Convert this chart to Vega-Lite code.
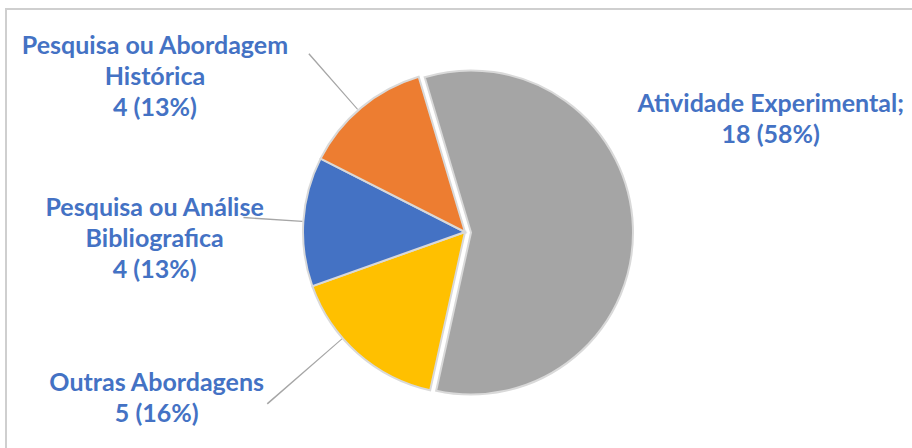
{
  "$schema": "https://vega.github.io/schema/vega-lite/v6.json",
  "width": 918,
  "height": 446,
  "autosize": {"type": "none"},
  "padding": {"left": 6, "top": 9, "right": -12, "bottom": -7},
  "background": "white",
  "view": {"stroke": "#cfcfcf", "strokeWidth": 2, "fill": "white"},
  "title": {
    "text": "Figura 6 : Principais itens de abordagem presentes nos artigos entre 2010 e 2020",
    "anchor": "start",
    "frame": "group",
    "orient": "top",
    "offset": -10,
    "baseline": "alphabetic",
    "dx": -22,
    "font": "Liberation Sans",
    "fontSize": 26.5,
    "fontWeight": "normal",
    "color": "#000000"
  },
  "data": {
    "values": [
      {"cat": "Atividade Experimental", "n": 18, "ord": 1, "label": "Atividade Experimental;\n18 (58%)"},
      {"cat": "Outras Abordagens", "n": 5, "ord": 2, "label": "Outras Abordagens\n5 (16%)"},
      {"cat": "Pesquisa ou Análise Bibliografica", "n": 4, "ord": 3, "label": "Pesquisa ou Análise\nBibliografica\n4 (13%)"},
      {"cat": "Pesquisa ou Abordagem Histórica", "n": 4, "ord": 4, "label": "Pesquisa ou Abordagem\nHistórica\n4 (13%)"}
    ]
  },
  "layer": [
    {
      "mark": {"type": "arc", "outerRadius": 162, "stroke": "#d9d9d9", "strokeWidth": 2},
      "encoding": {
        "theta": {"field": "n", "type": "quantitative", "stack": true, "scale": {"domain": [0, 31], "range": [-0.29, 5.9932]}},
        "order": {"field": "ord", "type": "quantitative", "sort": "ascending"},
        "color": {"field": "cat", "type": "nominal", "legend": null,
          "scale": {"domain": ["Atividade Experimental", "Outras Abordagens", "Pesquisa ou Análise Bibliografica", "Pesquisa ou Abordagem Histórica"],
                    "range": ["#A5A5A5", "#FFC000", "#4472C4", "#ED7D31"]}},
        "opacity": {"condition": {"test": "datum.cat === 'Atividade Experimental'", "value": 0}, "value": 1}
      }
    },
    {
      "mark": {"type": "arc", "outerRadius": 162, "stroke": "#d9d9d9", "strokeWidth": 2, "xOffset": 6, "yOffset": 0.5},
      "encoding": {
        "theta": {"field": "n", "type": "quantitative", "stack": true},
        "order": {"field": "ord", "type": "quantitative", "sort": "ascending"},
        "color": {"field": "cat", "type": "nominal", "legend": null},
        "opacity": {"condition": {"test": "datum.cat !== 'Atividade Experimental'", "value": 0}, "value": 1}
      }
    },
    {
      "transform": [{"filter": "datum.cat === 'Pesquisa ou Abordagem Histórica'"}],
      "mark": {"type": "arc", "theta": 5.561, "theta2": 5.567, "innerRadius": 163, "outerRadius": 237, "fill": "#a6a6a6"},
      "encoding": {}
    },
    {
      "transform": [{"filter": "datum.cat === 'Pesquisa ou Análise Bibliografica'"}],
      "mark": {"type": "arc", "theta": 4.774, "theta2": 4.781, "innerRadius": 163, "outerRadius": 222, "fill": "#a6a6a6"},
      "encoding": {}
    },
    {
      "transform": [{"filter": "datum.cat === 'Outras Abordagens'"}],
      "mark": {"type": "arc", "theta": 3.994, "theta2": 4.0, "innerRadius": 163, "outerRadius": 262, "fill": "#a6a6a6"},
      "encoding": {}
    },
    {
      "transform": [
        {"stack": "n", "groupby": [], "sort": [{"field": "ord", "order": "ascending"}], "as": ["s0", "s1"]},
        {"filter": "datum.cat === 'Atividade Experimental'"}
      ],
      "mark": {"type": "text", "radius": 300, "dx": 391.5, "dy": 159.5, "align": "center", "baseline": "middle", "lineBreak": "\n", "font": "Lato", "fontWeight": "bold", "fontSize": 25, "lineHeight": 31, "fill": "#4472C4"},
      "encoding": {
        "theta": {"field": "s0", "type": "quantitative", "stack": null},
        "text": {"field": "label", "type": "nominal"}
      }
    },
    {
      "transform": [
        {"stack": "n", "groupby": [], "sort": [{"field": "ord", "order": "ascending"}], "as": ["s0", "s1"]},
        {"filter": "datum.cat === 'Outras Abordagens'"}
      ],
      "mark": {"type": "text", "radius": 300, "dx": -243.8, "dy": -141.9, "align": "center", "baseline": "middle", "lineBreak": "\n", "font": "Lato", "fontWeight": "bold", "fontSize": 25, "lineHeight": 31, "fill": "#4472C4"},
      "encoding": {
        "theta": {"field": "s0", "type": "quantitative", "stack": null},
        "text": {"field": "label", "type": "nominal"}
      }
    },
    {
      "transform": [
        {"stack": "n", "groupby": [], "sort": [{"field": "ord", "order": "ascending"}], "as": ["s0", "s1"]},
        {"filter": "datum.cat === 'Pesquisa ou Análise Bibliografica'"}
      ],
      "mark": {"type": "text", "radius": 300, "dx": -27.6, "dy": -124.6, "align": "center", "baseline": "middle", "lineBreak": "\n", "font": "Lato", "fontWeight": "bold", "fontSize": 25, "lineHeight": 31, "fill": "#4472C4"},
      "encoding": {
        "theta": {"field": "s0", "type": "quantitative", "stack": null},
        "text": {"field": "label", "type": "nominal"}
      }
    },
    {
      "transform": [
        {"stack": "n", "groupby": [], "sort": [{"field": "ord", "order": "ascending"}], "as": ["s0", "s1"]},
        {"filter": "datum.cat === 'Pesquisa ou Abordagem Histórica'"}
      ],
      "mark": {"type": "text", "radius": 300, "dx": -42.6, "dy": -50.6, "align": "center", "baseline": "middle", "lineBreak": "\n", "font": "Lato", "fontWeight": "bold", "fontSize": 25, "lineHeight": 31, "fill": "#4472C4"},
      "encoding": {
        "theta": {"field": "s0", "type": "quantitative", "stack": null},
        "text": {"field": "label", "type": "nominal"}
      }
    }
  ]
}
